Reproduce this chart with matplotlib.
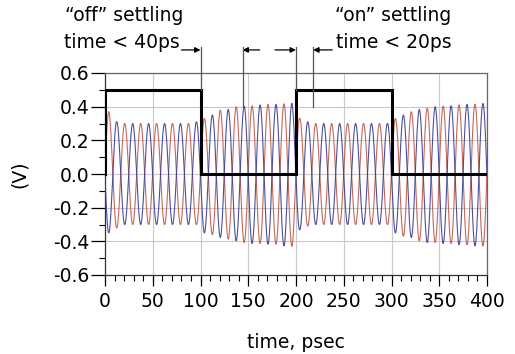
import numpy as np
import matplotlib
matplotlib.use("Agg")
import matplotlib.pyplot as plt
from matplotlib.ticker import MultipleLocator

plt.rcParams['font.family'] = ['DejaVu Sans']
plt.rcParams['axes.unicode_minus'] = False

# ---- data ----
# control (square) waveform
ctrl_t = [0, 0, 100, 100, 200, 200, 300, 300, 400]
ctrl_v = [0, 0.5, 0.5, 0, 0, 0.5, 0.5, 0, 0]

# differential oscillator outputs: carrier period and first red peak time (ps)
carrier_period = 16.67
first_peak_t = 4.0
# magnitude of successive positive peaks (alternating red / blue), one per half period
upper_env = [0.37, 0.31, 0.30, 0.30, 0.30, 0.30, 0.30, 0.30, 0.30, 0.30, 0.30, 0.31,
             0.33, 0.35, 0.38, 0.383, 0.40, 0.403, 0.405, 0.41, 0.413, 0.413, 0.417, 0.42,
             0.33, 0.31, 0.30, 0.30, 0.30, 0.30, 0.30, 0.30, 0.30, 0.30, 0.30, 0.30,
             0.33, 0.35, 0.37, 0.383, 0.39, 0.40, 0.403, 0.405, 0.41, 0.413, 0.415, 0.419]
# magnitude of successive negative troughs
lower_env = [0.35, 0.32, 0.30, 0.30, 0.30, 0.30, 0.30, 0.30, 0.30, 0.30, 0.30, 0.30,
             0.35, 0.36, 0.377, 0.387, 0.397, 0.407, 0.413, 0.413, 0.417, 0.417, 0.427, 0.43,
             0.33, 0.31, 0.30, 0.30, 0.30, 0.30, 0.30, 0.30, 0.30, 0.30, 0.30, 0.30,
             0.35, 0.37, 0.377, 0.397, 0.407, 0.407, 0.413, 0.413, 0.42, 0.42, 0.427, 0.427]

x_ticks = [0, 50, 100, 150, 200, 250, 300, 350, 400]
y_ticks = [-0.6, -0.4, -0.2, 0.0, 0.2, 0.4, 0.6]
y_tick_labels = ["-0.6", "-0.4", "-0.2", "0.0", "0.2", "0.4", "0.6"]

# annotation markers (ps)
marker_x = [100, 144, 200, 218]
marker_bottom = [0.5, 0.4, 0.5, 0.4]

# ---- build curves ----
t = np.linspace(0, 400, 8001)
peak_t = first_peak_t + carrier_period / 2 * np.arange(len(upper_env))
up = np.interp(t, peak_t, upper_env)
lo = np.interp(t, peak_t, lower_env)
c = np.cos(2 * np.pi * (t - first_peak_t) / carrier_period)
red = np.where(c > 0, up * c, lo * c)
blue = np.where(-c > 0, up * (-c), lo * (-c))

fig = plt.figure(figsize=(5.15, 3.54), dpi=100)
ax = fig.add_axes([105 / 515, 1 - 275 / 354, 382 / 515, 202 / 354])

ax.plot(t, red, color='#c2564b', lw=0.8, alpha=0.9, zorder=3)
ax.plot(t, blue, color='#3b3b96', lw=0.8, alpha=0.9, zorder=3)
ax.plot(ctrl_t, ctrl_v, color='black', lw=2.2, zorder=4, solid_joinstyle='miter')

ax.set_xlim(0, 400)
ax.set_ylim(-0.6, 0.6)
ax.set_xticks(x_ticks)
ax.set_yticks(y_ticks)
ax.set_yticklabels(y_tick_labels)
ax.xaxis.set_minor_locator(MultipleLocator(10))
ax.yaxis.set_minor_locator(MultipleLocator(0.1))
ax.tick_params(axis='x', which='major', length=8, width=0.9, pad=4, labelsize=13.5)
ax.tick_params(axis='x', which='minor', length=4, width=0.8)
ax.tick_params(axis='y', which='major', length=10, width=0.9, pad=1, labelsize=13.5)
ax.tick_params(axis='y', which='minor', length=4.5, width=0.8)

ax.grid(True, which='major', color='#c8c8c8', lw=0.8, zorder=0)
ax.set_axisbelow(True)
for s in ['top', 'right']:
    ax.spines[s].set_color('#666666')
    ax.spines[s].set_linewidth(0.9)
for s in ['bottom', 'left']:
    ax.spines[s].set_color('#333333')
    ax.spines[s].set_linewidth(0.9)

ax.set_xlabel('time, psec', fontsize=13.5, labelpad=16)
ax.set_ylabel('(V)', fontsize=13.5)
ax.yaxis.set_label_coords(-0.20, 0.5)

# annotation marker lines
top_y = 0.755
for mx, mb in zip(marker_x, marker_bottom):
    ax.plot([mx, mx], [mb, top_y], color='#555555', lw=0.9, clip_on=False, zorder=5)

arrow_y = 0.737
arrows = [(80, 100), (162, 144), (178, 200), (238, 218)]
for x0, x1 in arrows:
    ax.annotate('', xy=(x1, arrow_y), xytext=(x0, arrow_y), annotation_clip=False,
                arrowprops=dict(arrowstyle='-|>', color='black', lw=0.9,
                                mutation_scale=8, shrinkA=0, shrinkB=0))

ax.text(20, 0.94, '\u201coff\u201d settling', fontsize=13.5, ha='center', va='center')
ax.text(78, 0.78, 'time < 40ps', fontsize=13.5, ha='right', va='center')
ax.text(241, 0.94, '\u201con\u201d settling', fontsize=13.5, ha='left', va='center')
ax.text(242, 0.78, 'time < 20ps', fontsize=13.5, ha='left', va='center')

fig.savefig('out.png', dpi=100)
